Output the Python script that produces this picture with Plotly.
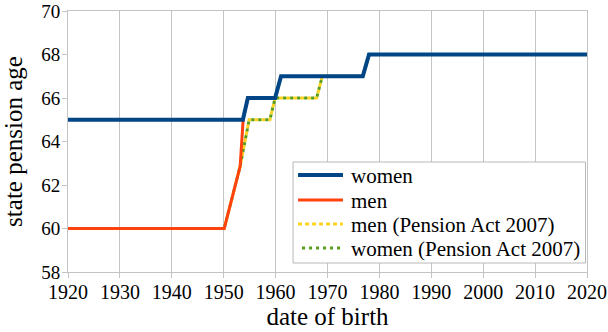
import plotly.graph_objects as go

# data
women_year = [1920, 1953.7, 1954.65, 1959.9, 1961.05, 1976.8, 1978.0, 2020]
women_age = [65, 65, 66, 66, 67, 67, 68, 68]

men_year = [1920, 1950.1, 1953.17, 1953.75]
men_age = [60, 60, 62.86, 65]

pa2007_year = [1920, 1950.1, 1953.17, 1954.9, 1958.9, 1959.9, 1967.9, 1969.0, 1976.8, 1978.0, 2020]
pa2007_age = [60, 60, 62.86, 65, 65, 66, 66, 67, 67, 68, 68]

x_ticks = [1920, 1930, 1940, 1950, 1960, 1970, 1980, 1990, 2000, 2010, 2020]
y_ticks = [58, 60, 62, 64, 66, 68, 70]

series_names = ["women", "men", "men (Pension Act 2007)", "women (Pension Act 2007)"]
series_colors = ["#004586", "#ff420e", "#ffd320", "#579d1c"]
series_dash = ["solid", "solid", "4px,3px", "0px,4px,3px,0px"]
series_width = [4, 3, 3, 3]

FONT = "Liberation Serif, DejaVu Serif, serif"
GRID = "#c4c4c4"

W, H = 608, 332
ML, MR, MT, MB = 67.5, 20.5, 11, 60
PW, PH = W - ML - MR, H - MT - MB


def px_x(p):
    return (p - ML) / PW


def px_y(p):
    return (H - MB - p) / PH


fig = go.Figure()
fig.add_trace(go.Scatter(x=pa2007_year, y=pa2007_age, mode="lines",
                         name=series_names[2], showlegend=False,
                         line=dict(color=series_colors[2], width=series_width[2], dash=series_dash[2])))
fig.add_trace(go.Scatter(x=pa2007_year, y=pa2007_age, mode="lines",
                         name=series_names[3], showlegend=False,
                         line=dict(color=series_colors[3], width=series_width[3], dash=series_dash[3])))
fig.add_trace(go.Scatter(x=men_year, y=men_age, mode="lines",
                         name=series_names[1], showlegend=False,
                         line=dict(color=series_colors[1], width=series_width[1])))
fig.add_trace(go.Scatter(x=women_year, y=women_age, mode="lines",
                         name=series_names[0], showlegend=False,
                         line=dict(color=series_colors[0], width=series_width[0])))

# legend box (drawn by hand for exact row spacing)
shapes = [dict(type="rect", xref="paper", yref="paper",
               x0=px_x(293), x1=px_x(586), y0=px_y(263), y1=px_y(162),
               fillcolor="white", line=dict(color="#b8b8b8", width=1), layer="above")]
annotations = []
row_y = [175, 200, 224, 248]
for name, col, dash, wdt, ry in zip(series_names, series_colors, series_dash, series_width, row_y):
    shapes.append(dict(type="line", xref="paper", yref="paper",
                       x0=px_x(298), x1=px_x(343), y0=px_y(ry), y1=px_y(ry),
                       line=dict(color=col, width=wdt, dash=dash), layer="above"))
    annotations.append(dict(text=name, xref="paper", yref="paper",
                            x=px_x(349), y=px_y(ry + 1), xanchor="left", yanchor="middle",
                            showarrow=False,
                            font=dict(family=FONT, size=21, color="black")))

fig.update_layout(
    width=W, height=H,
    margin=dict(l=ML, r=MR, t=MT, b=MB),
    paper_bgcolor="white", plot_bgcolor="white",
    font=dict(family=FONT, color="black", size=20),
    hovermode=False,
    showlegend=False,
    shapes=shapes,
    annotations=annotations,
    xaxis=dict(range=[1920, 2020], tickvals=x_ticks, ticktext=[str(v) for v in x_ticks],
               automargin=False,
               showgrid=True, gridcolor=GRID, gridwidth=1,
               showline=True, linecolor=GRID, linewidth=1, mirror=True,
               ticks="outside", ticklen=5, tickcolor=GRID,
               ticklabeloverflow="allow", ticklabelstandoff=-3,
               tickfont=dict(family=FONT, size=20, color="black"), zeroline=False,
               title=dict(text="date of birth", font=dict(family=FONT, size=25, color="black"), standoff=4)),
    yaxis=dict(range=[58, 70], tickvals=y_ticks, ticktext=[str(v) for v in y_ticks],
               automargin=False,
               showgrid=False,
               showline=True, linecolor=GRID, linewidth=1, mirror=True,
               ticks="outside", ticklen=5, tickcolor=GRID,
               ticklabeloverflow="allow", ticklabelstandoff=-2,
               tickfont=dict(family=FONT, size=19, color="black"), zeroline=False,
               title=dict(text="state pension age", font=dict(family=FONT, size=25, color="black"), standoff=16)),
)

fig.write_html("out.html")
